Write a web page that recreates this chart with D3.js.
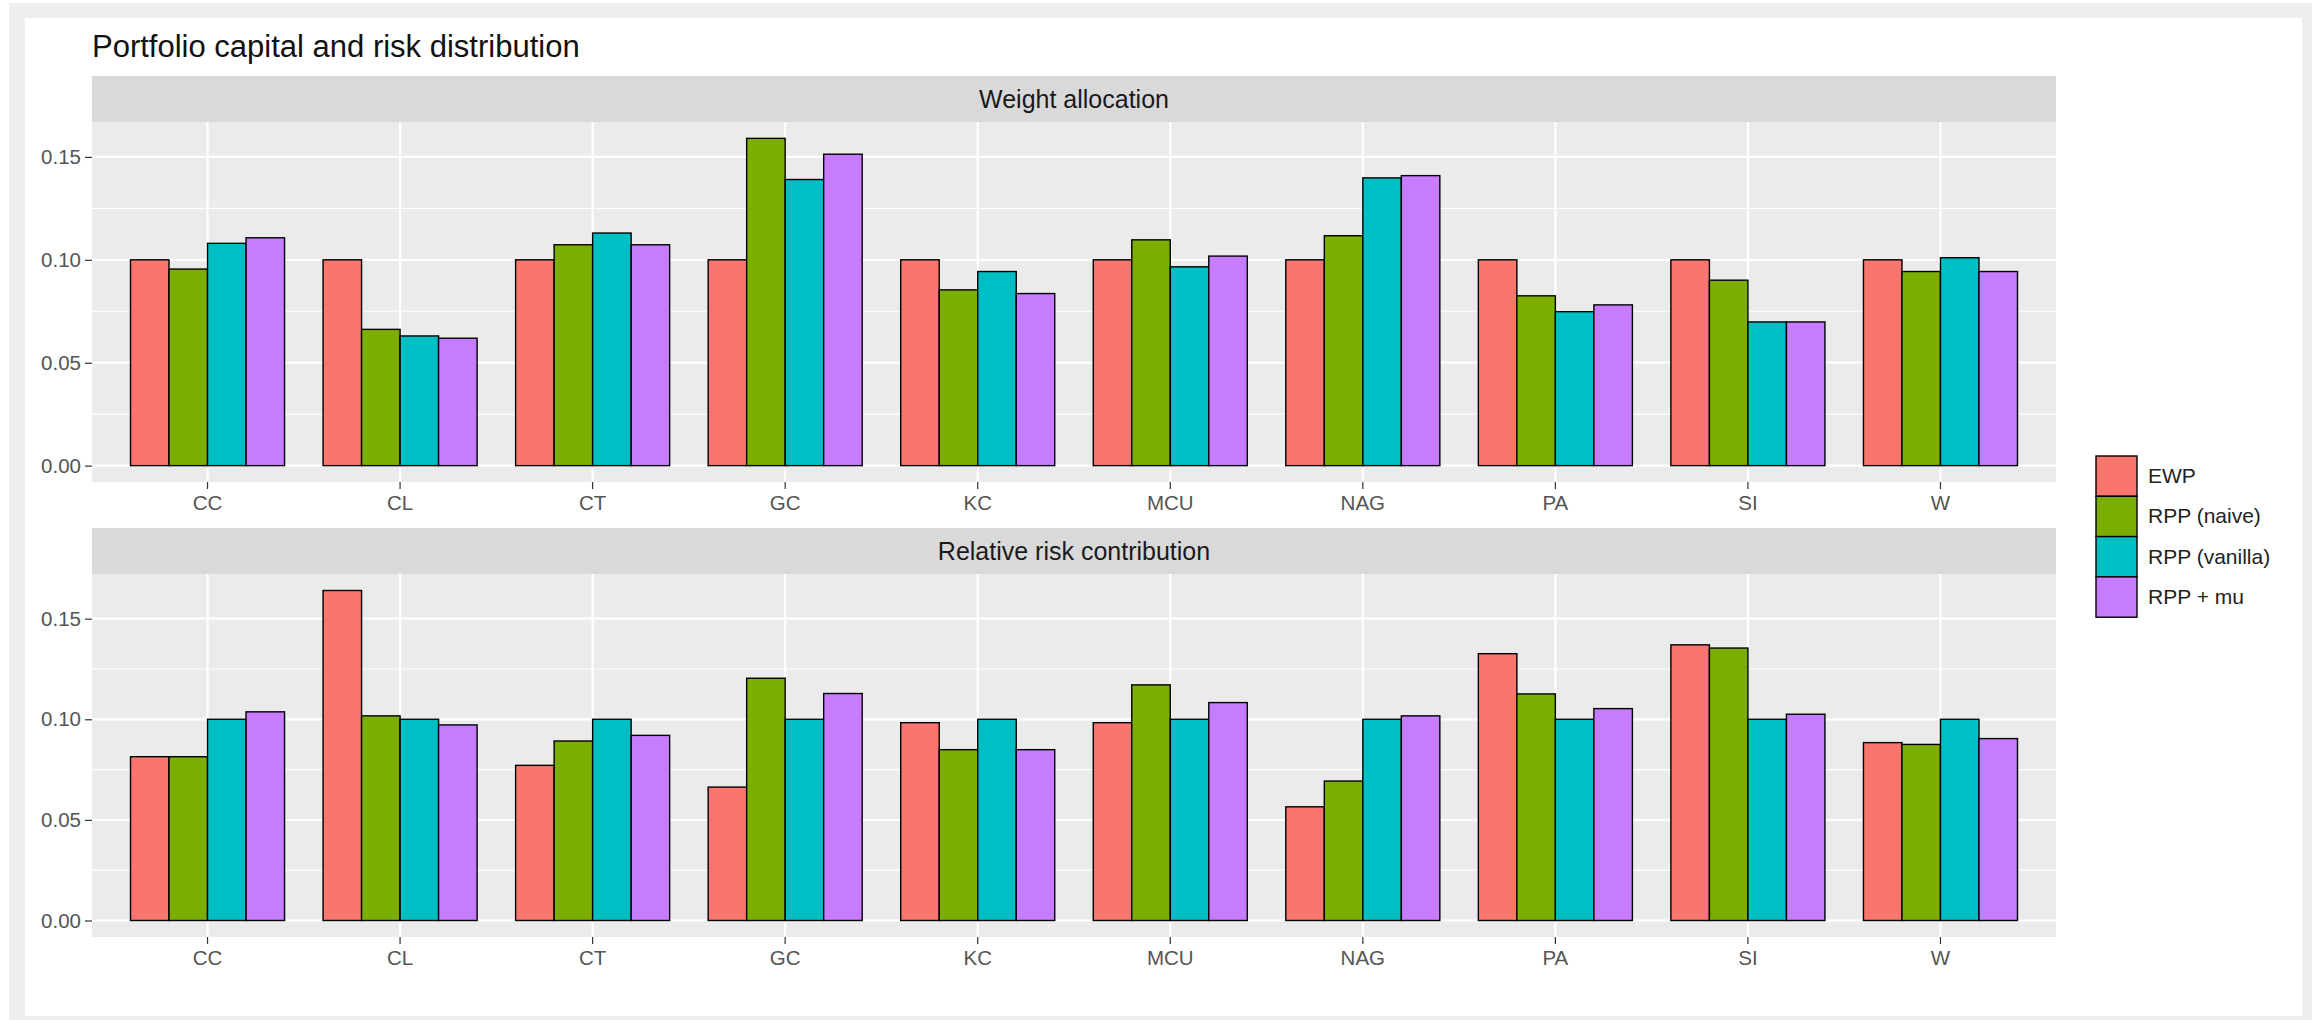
<!DOCTYPE html>
<html>
<head>
<meta charset="utf-8">
<script src="https://cdn.jsdelivr.net/npm/d3@7"></script>
<style>
  html, body { margin: 0; padding: 0; background: #ffffff; }
  svg { display: block; font-family: "Liberation Sans", Arial, sans-serif; }
</style>
</head>
<body>
<svg id="chart" width="2321" height="1020"></svg>
<script>
// ---------- data ----------
const categories = ["CC", "CL", "CT", "GC", "KC", "MCU", "NAG", "PA", "SI", "W"];
const seriesNames = ["EWP", "RPP (naive)", "RPP (vanilla)", "RPP + mu"];
const seriesColors = ["#F8766D", "#7CAE00", "#00BFC4", "#C77CFF"];
const yTicks = [0, 0.05, 0.10, 0.15];
const yMinorTicks = [0.025, 0.075, 0.125];

// Weight allocation (one array per series, in category order)
const weightEWP     = [0.100, 0.100, 0.100, 0.100, 0.100, 0.100, 0.100, 0.100, 0.100, 0.100];
const weightNaive   = [0.0955, 0.0662, 0.1073, 0.1590, 0.0854, 0.1097, 0.1117, 0.0825, 0.0901, 0.0943];
const weightVanilla = [0.1080, 0.0630, 0.1130, 0.1390, 0.0943, 0.0966, 0.1398, 0.0748, 0.0698, 0.1010];
const weightMu      = [0.1107, 0.0619, 0.1073, 0.1513, 0.0836, 0.1018, 0.1409, 0.0781, 0.0698, 0.0943];

// Relative risk contribution
const riskEWP     = [0.0814, 0.1640, 0.0771, 0.0663, 0.0983, 0.0983, 0.0565, 0.1326, 0.1370, 0.0884];
const riskNaive   = [0.0814, 0.1017, 0.0892, 0.1204, 0.0849, 0.1171, 0.0693, 0.1126, 0.1354, 0.0875];
const riskVanilla = [0.100, 0.100, 0.100, 0.100, 0.100, 0.100, 0.100, 0.100, 0.100, 0.100];
const riskMu      = [0.1037, 0.0972, 0.0920, 0.1128, 0.0849, 0.1083, 0.1017, 0.1053, 0.1025, 0.0904];

const panels = [
  { title: "Weight allocation", series: [weightEWP, weightNaive, weightVanilla, weightMu],
    stripTop: 76, plotTop: 122, plotBottom: 482 },
  { title: "Relative risk contribution", series: [riskEWP, riskNaive, riskVanilla, riskMu],
    stripTop: 528, plotTop: 574, plotBottom: 937 }
];

// ---------- layout ----------
const svg = d3.select("#chart");
const plotLeft = 92, plotRight = 2056;

// page frame
svg.append("rect").attr("x", 0).attr("y", 0).attr("width", 2321).attr("height", 1020).attr("fill", "#ffffff");
svg.append("rect").attr("x", 9).attr("y", 3).attr("width", 2303).attr("height", 1017).attr("fill", "#efefef");
svg.append("rect").attr("x", 25).attr("y", 18).attr("width", 2277).attr("height", 998).attr("fill", "#ffffff");

// title
svg.append("text")
  .attr("x", 92).attr("y", 57)
  .attr("font-size", 31)
  .attr("fill", "#111111")
  .text("Portfolio capital and risk distribution");

const x = d3.scaleBand().domain(categories).range([plotLeft, plotRight])
  .paddingInner(0.2).paddingOuter(0.2);
const xs = d3.scaleBand().domain(seriesNames).range([0, x.bandwidth()]).padding(0);
const color = d3.scaleOrdinal().domain(seriesNames).range(seriesColors);

panels.forEach(p => {
  const g = svg.append("g");
  const allVals = p.series.flat();
  const maxV = d3.max(allVals);
  const y = d3.scaleLinear()
    .domain([-0.05 * maxV, 1.05 * maxV])
    .range([p.plotBottom, p.plotTop]);

  // strip
  g.append("rect")
    .attr("x", plotLeft).attr("y", p.stripTop)
    .attr("width", plotRight - plotLeft).attr("height", p.plotTop - p.stripTop)
    .attr("fill", "#d9d9d9");
  g.append("text")
    .attr("x", (plotLeft + plotRight) / 2).attr("y", (p.stripTop + p.plotTop) / 2 + 9)
    .attr("text-anchor", "middle")
    .attr("font-size", 25)
    .attr("fill", "#1a1a1a")
    .text(p.title);

  // panel background
  g.append("rect")
    .attr("x", plotLeft).attr("y", p.plotTop)
    .attr("width", plotRight - plotLeft).attr("height", p.plotBottom - p.plotTop)
    .attr("fill", "#ebebeb");

  // minor grid
  g.selectAll("line.minor").data(yMinorTicks.filter(t => t <= y.domain()[1])).enter()
    .append("line")
    .attr("x1", plotLeft).attr("x2", plotRight)
    .attr("y1", d => y(d)).attr("y2", d => y(d))
    .attr("stroke", "#ffffff").attr("stroke-width", 1.2);
  // major grid y
  g.selectAll("line.major").data(yTicks).enter()
    .append("line")
    .attr("x1", plotLeft).attr("x2", plotRight)
    .attr("y1", d => y(d)).attr("y2", d => y(d))
    .attr("stroke", "#ffffff").attr("stroke-width", 2.2);
  // major grid x
  g.selectAll("line.vgrid").data(categories).enter()
    .append("line")
    .attr("x1", d => x(d) + x.bandwidth() / 2).attr("x2", d => x(d) + x.bandwidth() / 2)
    .attr("y1", p.plotTop).attr("y2", p.plotBottom)
    .attr("stroke", "#ffffff").attr("stroke-width", 2.2);

  // bars
  categories.forEach((c, ci) => {
    seriesNames.forEach((s, si) => {
      const v = p.series[si][ci];
      g.append("rect")
        .attr("x", x(c) + xs(s))
        .attr("y", y(v))
        .attr("width", xs.bandwidth())
        .attr("height", y(0) - y(v))
        .attr("fill", color(s))
        .attr("stroke", "#000000")
        .attr("stroke-width", 1.4);
    });
  });

  // y axis
  const yAxis = d3.axisLeft(y).tickValues(yTicks).tickFormat(d3.format(".2f")).tickSize(7).tickPadding(4);
  const ya = g.append("g").attr("transform", `translate(${plotLeft},0)`).call(yAxis);
  ya.select(".domain").remove();
  ya.selectAll(".tick line").attr("stroke", "#333333").attr("stroke-width", 1.2);
  ya.selectAll(".tick text").attr("font-size", 20.5).attr("fill", "#555555")
    .attr("font-family", "'Liberation Sans', Arial, sans-serif");

  // x axis
  const xAxis = d3.axisBottom(x).tickSize(7).tickPadding(6);
  const xa = g.append("g").attr("transform", `translate(0,${p.plotBottom})`).call(xAxis);
  xa.select(".domain").remove();
  xa.selectAll(".tick line").attr("stroke", "#333333").attr("stroke-width", 1.2);
  xa.selectAll(".tick text").attr("font-size", 20.5).attr("fill", "#555555")
    .attr("font-family", "'Liberation Sans', Arial, sans-serif");
});

// legend
const legendX = 2096, legendY = 456, keyW = 41, keyH = 40.3;
const lg = svg.append("g");
seriesNames.forEach((s, i) => {
  lg.append("rect")
    .attr("x", legendX).attr("y", legendY + i * keyH)
    .attr("width", keyW).attr("height", keyH)
    .attr("fill", color(s))
    .attr("stroke", "#000000").attr("stroke-width", 1.4);
  lg.append("text")
    .attr("x", legendX + keyW + 11)
    .attr("y", legendY + i * keyH + keyH / 2 + 7)
    .attr("font-size", 21)
    .attr("fill", "#222222")
    .text(s);
});
</script>
</body>
</html>
